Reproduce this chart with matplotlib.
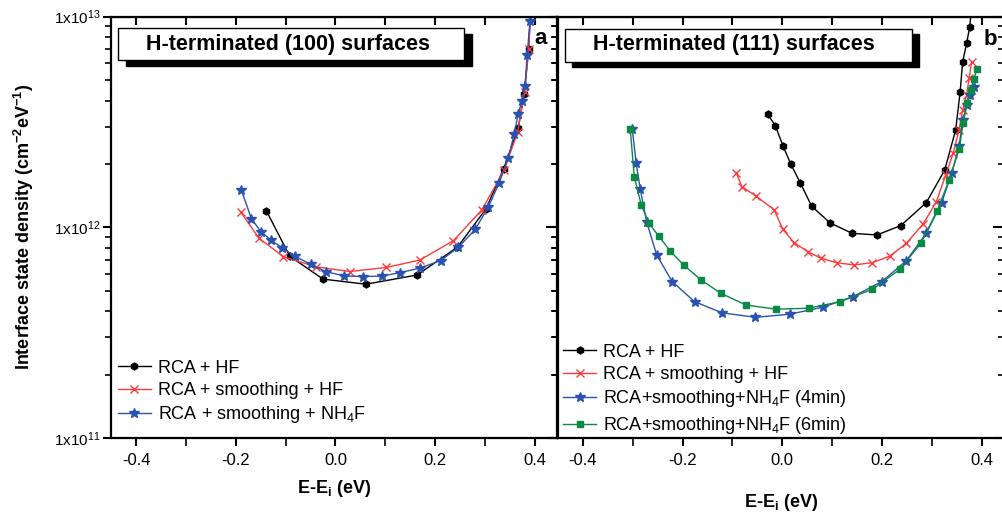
import matplotlib
matplotlib.use('Agg')
import math
import matplotlib.pyplot as plt
from matplotlib.patches import Rectangle
from matplotlib.ticker import FixedLocator, LogLocator, FuncFormatter, MultipleLocator, NullFormatter

plt.rcParams['font.family'] = ['Liberation Sans', 'DejaVu Sans']
plt.rcParams['mathtext.default'] = 'regular'

# ---- panel a : H-terminated (100)
a_hf_x = [-0.139, -0.092, -0.025, 0.061, 0.164, 0.245, 0.302, 0.338, 0.367, 0.379, 0.388, 0.392]
a_hf_y = [1.20e12, 7.3e11, 5.68e11, 5.37e11, 5.94e11, 8.05e11, 1.22e12, 1.90e12, 2.95e12, 4.3e12, 7.0e12, 1.1e13]

a_sm_x = [-0.190, -0.154, -0.105, -0.040, 0.029, 0.102, 0.170, 0.237, 0.294, 0.339, 0.366, 0.380, 0.388, 0.392]
a_sm_y = [1.18e12, 8.9e11, 7.26e11, 6.5e11, 6.17e11, 6.45e11, 7.0e11, 8.65e11, 1.21e12, 1.87e12, 2.84e12, 4.4e12, 7.0e12, 1.05e13]

a_nh_x = [-0.189, -0.169, -0.150, -0.130, -0.107, -0.082, -0.050, -0.020, 0.017, 0.055, 0.094, 0.130,
          0.169, 0.211, 0.247, 0.281, 0.307, 0.329, 0.347, 0.359, 0.367, 0.375, 0.381, 0.385, 0.391]
a_nh_y = [1.50e12, 1.10e12, 9.55e11, 8.7e11, 8.0e11, 7.3e11, 6.68e11, 6.17e11, 5.88e11, 5.84e11, 5.87e11, 6.1e11,
          6.4e11, 6.95e11, 8.05e11, 9.8e11, 1.25e12, 1.63e12, 2.13e12, 2.77e12, 3.45e12, 3.99e12, 4.69e12, 6.58e12, 9.57e12]

# ---- panel b : H-terminated (111)
b_hf_x = [-0.029, -0.014, 0.002, 0.017, 0.036, 0.059, 0.096, 0.140, 0.190, 0.238, 0.289, 0.326,
          0.348, 0.357, 0.362, 0.370, 0.376, 0.380]
b_hf_y = [3.44e12, 3.04e12, 2.42e12, 2.0e12, 1.63e12, 1.26e12, 1.05e12, 9.37e11, 9.2e11, 1.02e12, 1.31e12, 1.87e12,
          2.9e12, 4.41e12, 6.1e12, 7.48e12, 8.9e12, 1.1e13]

b_sm_x = [-0.092, -0.081, -0.053, -0.016, 0.001, 0.024, 0.051, 0.078, 0.109, 0.144, 0.181, 0.216,
          0.249, 0.283, 0.309, 0.328, 0.343, 0.355, 0.362, 0.370, 0.375, 0.380]
b_sm_y = [1.81e12, 1.56e12, 1.41e12, 1.21e12, 9.8e11, 8.45e11, 7.67e11, 7.13e11, 6.8e11, 6.63e11, 6.8e11, 7.3e11,
          8.4e11, 1.04e12, 1.32e12, 1.77e12, 2.25e12, 2.9e12, 3.61e12, 4.25e12, 5.1e12, 6.1e12]

b_nh4_x = [-0.301, -0.293, -0.285, -0.272, -0.252, -0.221, -0.176, -0.121, -0.054, 0.015, 0.082, 0.142,
           0.200, 0.249, 0.289, 0.320, 0.340, 0.355, 0.362, 0.371, 0.376, 0.385]
b_nh4_y = [2.93e12, 2.01e12, 1.52e12, 1.06e12, 7.4e11, 5.53e11, 4.44e11, 3.93e11, 3.74e11, 3.87e11, 4.18e11, 4.69e11,
           5.53e11, 6.95e11, 9.37e11, 1.31e12, 1.81e12, 2.43e12, 3.24e12, 3.81e12, 4.25e12, 4.66e12]

b_nh6_x = [-0.305, -0.297, -0.283, -0.268, -0.248, -0.225, -0.198, -0.163, -0.123, -0.073, -0.013, 0.053,
           0.116, 0.181, 0.236, 0.278, 0.311, 0.335, 0.355, 0.363, 0.371, 0.378, 0.385, 0.390]
b_nh6_y = [2.93e12, 1.74e12, 1.28e12, 1.05e12, 9.1e11, 7.73e11, 6.63e11, 5.63e11, 4.86e11, 4.28e11, 4.09e11, 4.13e11,
           4.44e11, 5.08e11, 6.32e11, 8.4e11, 1.2e12, 1.68e12, 2.35e12, 3.12e12, 3.88e12, 4.49e12, 5.05e12, 5.62e12]

BLACK = '#000000'
RED = '#ff3a3a'
BLUE = '#2a52b0'
GREEN = '#0a8a45'

fig = plt.figure(figsize=(10.03, 5.14), dpi=100)
W, H = 1003, 514
axa = fig.add_axes([111.5 / W, (514 - 438) / H, 445.5 / W, 421.3 / H])
axb = fig.add_axes([558 / W, (514 - 438) / H, 446 / W, 421.3 / H])


def style(ax, show_ylabels):
    ax.set_yscale('log')
    ax.set_xlim(-0.45, 0.445)
    ax.set_ylim(1e11, 1e13)
    for s in ax.spines.values():
        s.set_linewidth(1.6)
    ax.xaxis.set_major_locator(FixedLocator([-0.4, -0.2, 0.0, 0.2, 0.4]))
    ax.xaxis.set_minor_locator(MultipleLocator(0.1))
    ax.xaxis.set_major_formatter(FuncFormatter(lambda v, p: '%.1f' % v))
    ax.yaxis.set_major_locator(FixedLocator([1e11, 1e12, 1e13]))
    ax.yaxis.set_minor_locator(LogLocator(base=10, subs=range(2, 10)))
    ax.yaxis.set_minor_formatter(NullFormatter())
    if show_ylabels:
        ax.yaxis.set_major_formatter(FuncFormatter(lambda v, p: '1x10$^{%d}$' % round(math.log10(v))))
    else:
        ax.yaxis.set_major_formatter(NullFormatter())
    ax.tick_params(axis='both', which='major', direction='out', length=6, width=1.5, colors='black')
    ax.tick_params(axis='x', which='major', labelsize=12, pad=5)
    ax.tick_params(axis='y', which='major', labelsize=11, pad=2)
    ax.tick_params(axis='both', which='minor', direction='out', length=4, width=1.2)
    ax.tick_params(axis='x', which='minor', length=6)
    # top / right ticks pointing inside
    top = ax.secondary_xaxis('top')
    top.xaxis.set_major_locator(MultipleLocator(0.1))
    top.tick_params(direction='in', length=6, width=1.5, labelsize=0)
    top.set_xticklabels([])
    right = ax.secondary_yaxis('right')
    right.yaxis.set_major_locator(FixedLocator([1e11, 1e12, 1e13]))
    right.yaxis.set_minor_locator(LogLocator(base=10, subs=range(2, 10)))
    right.yaxis.set_major_formatter(NullFormatter())
    right.yaxis.set_minor_formatter(NullFormatter())
    right.tick_params(which='major', direction='in', length=8, width=1.5)
    right.tick_params(which='minor', direction='in', length=4, width=1.2)
    ax.set_xlabel('E-E$_i$ (eV)', fontsize=13, fontweight='bold')


def title_box(ax, x0, y0, w, h, dx, dy, tx, ty, text):
    ax.add_patch(Rectangle((x0 + dx, y0 - dy), w, h, transform=ax.transAxes, facecolor='black',
                           edgecolor='black', zorder=5))
    ax.add_patch(Rectangle((x0, y0), w, h, transform=ax.transAxes, facecolor='white',
                           edgecolor='black', linewidth=1.0, zorder=6))
    ax.text(tx, ty, text, transform=ax.transAxes, ha='center', va='center', fontsize=15.5,
            fontweight='bold', zorder=7)


# panel a
axa.plot(a_hf_x, a_hf_y, color=BLACK, lw=1, marker='h', ms=5, label='RCA + HF')
axa.plot(a_sm_x, a_sm_y, color=RED, lw=1, marker='x', ms=6, mew=1, label='RCA + smoothing + HF')
axa.plot(a_nh_x, a_nh_y, color=BLUE, lw=1, marker='*', ms=7, label='RCA + smoothing + NH$_4$F')
style(axa, True)
axa.set_ylabel('Interface state density (cm$^{-2}$eV$^{-1}$)', fontsize=13, fontweight='bold')
axa.yaxis.set_label_coords(-0.17, 0.5)
axa.xaxis.set_label_coords(0.5, -0.095)
title_box(axa, 0.0146, 0.897, 0.777, 0.076, 0.018, 0.014, 0.396, 0.935, 'H-terminated (100) surfaces')
axa.text(0.962, 0.949, 'a', transform=axa.transAxes, ha='center', va='center', fontsize=16, fontweight='bold')
axa.legend(loc='lower left', bbox_to_anchor=(0.015, 0.03), frameon=False, fontsize=13, handlelength=1.8,
           handletextpad=0.4, labelspacing=0.3, borderaxespad=0.0, borderpad=0.0)

# panel b
axb.plot(b_hf_x, b_hf_y, color=BLACK, lw=1, marker='h', ms=5, label='RCA + HF')
axb.plot(b_sm_x, b_sm_y, color=RED, lw=1, marker='x', ms=6, mew=1, label='RCA + smoothing + HF')
axb.plot(b_nh4_x, b_nh4_y, color=BLUE, lw=1, marker='*', ms=7, label='RCA+smoothing+NH$_4$F (4min)')
axb.plot(b_nh6_x, b_nh6_y, color=GREEN, lw=1, marker='s', ms=4.5, label='RCA+smoothing+NH$_4$F (6min)')
style(axb, False)
axb.xaxis.set_label_coords(0.5, -0.128)
title_box(axb, 0.0157, 0.892, 0.778, 0.078, 0.016, 0.012, 0.395, 0.933, 'H-terminated (111) surfaces')
axb.text(0.969, 0.945, 'b', transform=axb.transAxes, ha='center', va='center', fontsize=16, fontweight='bold')
axb.legend(loc='lower left', bbox_to_anchor=(0.012, 0.005), frameon=False, fontsize=13, handlelength=1.8,
           handletextpad=0.4, labelspacing=0.3, borderaxespad=0.0, borderpad=0.0)

fig.savefig('out.png', dpi=100)
